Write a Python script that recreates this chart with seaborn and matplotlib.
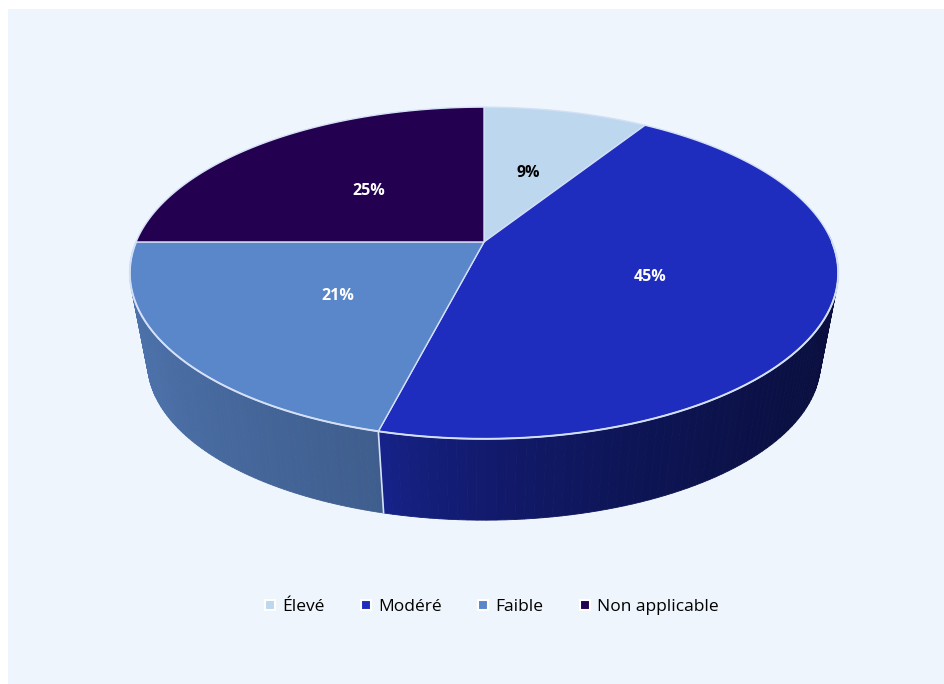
import numpy as np
import seaborn as sns
import matplotlib.pyplot as plt
from matplotlib.patches import Polygon, Rectangle
from matplotlib.lines import Line2D
from matplotlib.colors import to_rgb

# Data
categories = ["Élevé", "Modéré", "Faible", "Non applicable"]
shares = [9, 45, 21, 25]
top_colors = ["#BDD7EE", "#1F2DBF", "#5A87C9", "#240050"]
wall_light = ["#A9C3DD", "#17238E", "#4E74AE", "#1E0045"]
wall_dark = ["#93ADC8", "#0A0F3F", "#3F5E8E", "#14002E"]
label_colors = ["black", "white", "white", "white"]

sns.set_theme(style="white")
plt.rcParams["font.family"] = ["Open Sans", "DejaVu Sans"]

# 3D look parameters (perspective tilt)
k = 0.187      # perspective strength
ry = 0.46      # vertical squash
drop = 0.262   # bottom face shift
sb = 0.95      # bottom face shrink (perspective)
edge = "#D4E0F6"


def proj(theta, r=1.0):
    u = r * np.cos(theta)
    v = r * np.sin(theta)
    w = 1 + k * v
    return u / w, ry * v / w


def proj_bottom(theta):
    x, y = proj(theta)
    return sb * x, sb * y - drop


fig = plt.figure(figsize=(9.44, 6.84), dpi=100)
fig.patch.set_facecolor("white")
fig.patches.append(Rectangle((8 / 944, 0), 1, 1 - 9 / 684, transform=fig.transFigure,
                             facecolor="#EEF5FC", edgecolor="none", zorder=-10))

ax = fig.add_axes([0, 0, 1, 1])
ax.set_facecolor("none")
ax.set_xlim(-1.391, 1.322)
ax.set_ylim(-1.270, 0.695)
ax.set_aspect("equal")
ax.axis("off")

# slice angles, clockwise from 12 o'clock
fracs = np.array(shares) / sum(shares)
starts = np.deg2rad(90 - 360 * np.concatenate([[0], np.cumsum(fracs)[:-1]]))
ends = starts - 2 * np.pi * fracs

# side walls (front half only)
for i in range(len(shares)):
    lo, hi = min(starts[i], ends[i]), max(starts[i], ends[i])
    for shift in (0, -2 * np.pi, 2 * np.pi):
        l2, h2 = max(lo + shift, -np.pi), min(hi + shift, 0.05)
        if h2 <= l2:
            continue
        n = 80
        th = np.linspace(l2, h2, n + 1)
        xs, ys = proj(th)
        bx, by = proj_bottom(th)
        xmin, xmax = xs.min(), xs.max()
        c0, c1 = np.array(to_rgb(wall_light[i])), np.array(to_rgb(wall_dark[i]))
        for j in range(n):
            t = ((xs[j] + xs[j + 1]) / 2 - xmin) / max(xmax - xmin, 1e-9)
            col = c0 + (c1 - c0) * t ** 0.6
            poly = [(xs[j], ys[j]), (xs[j + 1], ys[j + 1]),
                    (bx[j + 1], by[j + 1]), (bx[j], by[j])]
            ax.add_patch(Polygon(poly, closed=True, facecolor=col, edgecolor=col,
                                 lw=0.6, zorder=1))

# edges where slice boundaries meet the visible wall
for a in starts:
    if np.sin(a) < -1e-6:
        x, y = proj(a)
        x2, y2 = proj_bottom(a)
        ax.plot([x, x2], [y, y2], color=edge, lw=1.2, zorder=2)

# top faces
for i in range(len(shares)):
    th = np.linspace(starts[i], ends[i], 200)
    xs, ys = proj(th)
    pts = np.vstack([[0, 0], np.column_stack([xs, ys])])
    ax.add_patch(Polygon(pts, closed=True, facecolor=top_colors[i], edgecolor=edge,
                         lw=1.0, zorder=3, joinstyle="round"))

# front rim line
th = np.linspace(-np.pi, 0, 200)
rx, rys = proj(th)
ax.plot(rx, rys, color=edge, lw=1.4, zorder=4)

# percentage labels
for i in range(len(shares)):
    mid = (starts[i] + ends[i]) / 2
    x, y = proj(mid, 0.5)
    ax.text(x, y, f"{shares[i]}%", ha="center", va="center_baseline", fontsize=11.5,
            fontweight="bold", color=label_colors[i], zorder=5)

handles = [Line2D([0], [0], marker="s", linestyle="none", markersize=7,
                  markerfacecolor=c, markeredgecolor="white", markeredgewidth=1.5)
           for c in top_colors]
leg = fig.legend(handles, categories, loc="center", bbox_to_anchor=(0.520, 1 - 607 / 684),
                 ncol=4, frameon=False, fontsize=12.5, handlelength=0.8,
                 handletextpad=0.3, columnspacing=2.0)
for t in leg.get_texts():
    t.set_color("black")

fig.savefig("out.png", dpi=100)
